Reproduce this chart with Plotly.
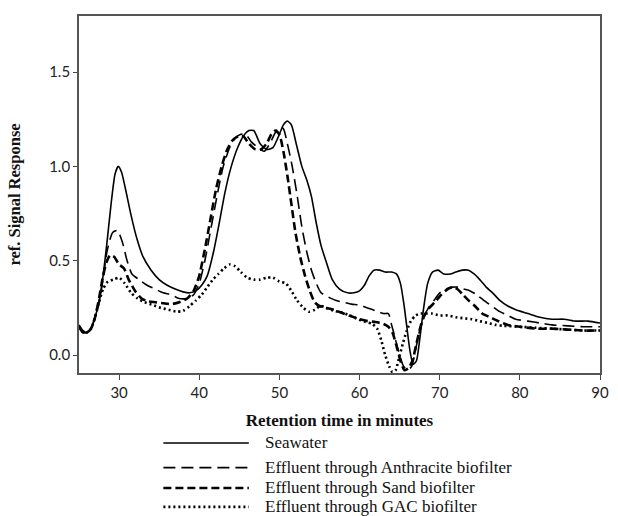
import plotly.graph_objects as go

series_names = [
    "Seawater",
    "Effluent through Anthracite biofilter",
    "Effluent through Sand biofilter",
    "Effluent through GAC biofilter",
]

sea_x = [25, 25.5, 26, 26.5, 27, 27.5, 28, 28.5, 29, 29.5, 29.9, 30.3, 30.8, 31.5, 32.2, 33, 34, 35, 36, 37, 38, 38.8, 39.6, 40.3, 41, 41.8, 42.5, 43.2, 44, 44.8, 45.5, 46.2, 46.8, 47.6, 48.4, 49.2, 50, 50.5, 51, 51.5, 52.1, 52.8, 53.4, 54, 54.6, 55.2, 55.8, 56.6, 57.5, 58.5, 59.3, 60, 60.6, 61.2, 61.8, 62.5, 63.2, 64, 64.6, 65.1, 65.5, 65.9, 66.3, 66.7, 67.1, 67.5, 68, 68.5, 69.1, 69.8, 70.5, 71.3, 72, 72.8, 73.6, 74.3, 75, 75.8, 76.6, 77.5, 78.5, 79.5, 81, 82.5, 84, 85.5, 87, 88.5, 90]
sea_y = [0.15, 0.12, 0.12, 0.14, 0.2, 0.28, 0.42, 0.6, 0.8, 0.96, 1.0, 0.97, 0.88, 0.74, 0.62, 0.52, 0.45, 0.4, 0.37, 0.35, 0.335, 0.33, 0.34, 0.37, 0.42, 0.55, 0.7, 0.86, 1.0, 1.1, 1.16, 1.19, 1.19, 1.12, 1.09, 1.1, 1.17, 1.22, 1.24, 1.22, 1.12, 1.0, 0.93, 0.84, 0.7, 0.58, 0.5, 0.4, 0.35, 0.33, 0.33, 0.34, 0.37, 0.42, 0.45, 0.45, 0.44, 0.44, 0.43, 0.38, 0.28, 0.15, 0.02, -0.05, -0.03, 0.08, 0.25, 0.38, 0.44, 0.45, 0.43, 0.43, 0.44, 0.45, 0.45, 0.43, 0.4, 0.36, 0.33, 0.29, 0.26, 0.24, 0.22, 0.2, 0.19, 0.19, 0.18, 0.18, 0.17]

anth_x = [25, 25.5, 26, 26.5, 27, 27.5, 28, 28.5, 29.2, 29.8, 30.4, 31, 31.6, 32.5, 33.5, 34.5, 35.5, 36.5, 37.5, 38.5, 39.3, 40, 40.7, 41.5, 42.3, 43, 43.8, 44.5, 45.2, 45.8, 46.5, 47.3, 48.1, 48.8, 49.5, 50, 50.5, 51, 51.6, 52.2, 52.8, 53.4, 54, 54.6, 55.2, 56, 57, 58, 59, 60, 61, 62, 63, 63.6, 64, 64.5, 65, 65.5, 66, 66.5, 67, 67.5, 68, 68.6, 69.3, 70, 70.8, 71.6, 72.3, 73, 73.8, 74.6, 75.5, 76.5, 77.5, 78.5, 79.5, 81, 82.5, 84, 86, 88, 90]
anth_y = [0.16, 0.13, 0.12, 0.14, 0.2, 0.28, 0.4, 0.55, 0.65, 0.66, 0.6, 0.5, 0.43, 0.4, 0.37, 0.35, 0.33, 0.32, 0.3, 0.3, 0.32, 0.38, 0.5, 0.68, 0.86, 1.0, 1.1, 1.15, 1.17, 1.17, 1.13, 1.1, 1.08, 1.12, 1.18, 1.21, 1.2, 1.12, 1.0, 0.85, 0.68, 0.55, 0.45, 0.38, 0.33, 0.31, 0.29, 0.28, 0.27, 0.265, 0.25, 0.235, 0.22, 0.22, 0.16, 0.08, 0.0, -0.06, -0.08, -0.06, 0.03, 0.13, 0.2, 0.25, 0.29, 0.33, 0.35, 0.36, 0.36, 0.35, 0.34, 0.32, 0.29, 0.26, 0.23, 0.21, 0.19, 0.18, 0.17, 0.16, 0.155, 0.15, 0.15]

sand_x = [25, 25.5, 26, 26.5, 27, 27.5, 28, 28.5, 28.9, 29.4, 30, 30.6, 31.2, 32, 32.8, 33.6, 34.5, 35.5, 36.5, 37.5, 38.5, 39.3, 40, 40.7, 41.4, 42.1, 42.8, 43.5, 44.2, 44.9, 45.5, 46.2, 47, 47.7, 48.4, 49, 49.5, 50, 50.5, 51, 51.5, 52, 52.6, 53.2, 53.8, 54.4, 55, 55.8, 56.8, 58, 59, 60, 61, 62, 63, 63.6, 64.1, 64.6, 65.1, 65.6, 66.1, 66.6, 67.1, 67.6, 68.1, 68.7, 69.4, 70.2, 71, 71.6, 72.2, 72.9, 73.6, 74.4, 75.3, 76.3, 77.3, 78.5, 80, 82, 84, 86, 88, 90]
sand_y = [0.15, 0.12, 0.12, 0.14, 0.2, 0.3, 0.42, 0.5, 0.53, 0.52, 0.48, 0.46, 0.4, 0.34, 0.3, 0.285, 0.28, 0.275, 0.27, 0.28, 0.3, 0.34, 0.42, 0.56, 0.72, 0.88, 1.0, 1.09, 1.14, 1.16, 1.16, 1.12, 1.09, 1.09, 1.12, 1.17, 1.19, 1.17, 1.08, 0.95, 0.8, 0.65, 0.52, 0.42, 0.34, 0.28, 0.26, 0.25, 0.24, 0.22, 0.205, 0.19, 0.18, 0.175, 0.165, 0.15, 0.12, 0.05, -0.03, -0.08, -0.07, -0.03, 0.06, 0.15, 0.21, 0.25, 0.28, 0.32, 0.35, 0.36, 0.35, 0.32, 0.29, 0.26, 0.22, 0.2, 0.18, 0.16, 0.15, 0.14, 0.14, 0.135, 0.13, 0.13]

gac_x = [25, 25.5, 26, 26.5, 27, 27.5, 28, 28.6, 29.3, 30, 30.7, 31.5, 32.3, 33.2, 34.2, 35.2, 36.2, 37.2, 38, 38.8, 39.6, 40.3, 41, 41.7, 42.4, 43.1, 43.8, 44.5, 45.2, 46, 46.8, 47.6, 48.4, 49.2, 50, 50.8, 51.5, 52.2, 53, 53.7, 54.4, 55.1, 55.9, 56.8, 57.8, 58.8, 59.8, 60.8, 61.6, 62.2, 62.7, 63.2, 63.7, 64.1, 64.5, 64.9, 65.4, 65.9, 66.4, 67, 67.6, 68.2, 69, 70, 71, 72, 73, 74, 75, 76, 77, 78, 80, 82, 84, 86, 88, 90]
gac_y = [0.15, 0.12, 0.12, 0.14, 0.2, 0.28, 0.35, 0.39, 0.4, 0.41, 0.38, 0.33, 0.3, 0.28, 0.265, 0.25, 0.24, 0.23, 0.235, 0.26, 0.29, 0.32, 0.36, 0.4, 0.43, 0.46, 0.48, 0.47, 0.44, 0.41, 0.4, 0.4, 0.41, 0.41, 0.39, 0.38, 0.34, 0.29, 0.25, 0.23, 0.24, 0.26, 0.25, 0.235, 0.225, 0.21, 0.19, 0.175, 0.165, 0.14, 0.08, 0.0, -0.06, -0.09, -0.08, -0.02, 0.06, 0.13, 0.18, 0.21, 0.22, 0.22, 0.22, 0.21, 0.21, 0.2, 0.195, 0.19, 0.18, 0.17, 0.16, 0.155, 0.15, 0.145, 0.14, 0.135, 0.13, 0.13]

x_ticks = [30, 40, 50, 60, 70, 80, 90]
y_ticks = [0.0, 0.5, 1.0, 1.5]

styles = [
    dict(width=1.6, dash="solid"),
    dict(width=1.6, dash="12px,6px"),
    dict(width=2.6, dash="8px,4px"),
    dict(width=2.6, dash="2px,3px"),
]
data = [(sea_x, sea_y), (anth_x, anth_y), (sand_x, sand_y), (gac_x, gac_y)]

fig = go.Figure()
for name, (xs, ys), st in zip(series_names, data, styles):
    fig.add_trace(go.Scatter(
        x=xs, y=ys, mode="lines", name=name, showlegend=False,
        line=dict(color="black", width=st["width"], dash=st["dash"], shape="spline", smoothing=0.6),
    ))

# legend drawn below the axis title
row_y = [-0.196, -0.265, -0.322, -0.375]
for name, st, yy in zip(series_names, styles, row_y):
    fig.add_shape(type="line", xref="paper", yref="paper", x0=0.162, x1=0.326, y0=yy, y1=yy,
                  line=dict(color="black", width=st["width"], dash=st["dash"]))
    fig.add_annotation(text=name, xref="paper", yref="paper", x=0.353, y=yy, xanchor="left",
                       yanchor="middle", showarrow=False,
                       font=dict(family="Liberation Serif", size=17, color="#111"))

fig.update_layout(
    width=618, height=516,
    margin=dict(l=79, r=9, t=16, b=143),
    paper_bgcolor="white", plot_bgcolor="white",
    xaxis=dict(
        range=[25, 90], tickvals=x_ticks, ticks="outside", ticklen=5, tickwidth=1.2, tickcolor="#444",
        showgrid=False, zeroline=False, showline=True, linecolor="#555", linewidth=1.8, mirror=True,
        tickfont=dict(family="Lato", size=15, color="#222"),
        title=dict(text="Retention time in minutes", standoff=14,
                   font=dict(family="Liberation Serif", size=17, color="#111", weight="bold")),
    ),
    yaxis=dict(
        range=[-0.095, 1.797], tickvals=y_ticks, tickformat=".1f", ticks="outside", ticklen=4,
        tickwidth=1.2, tickcolor="#444",
        showgrid=False, zeroline=False, showline=True, linecolor="#555", linewidth=1.8, mirror=True,
        tickfont=dict(family="Lato", size=15, color="#222"),
        title=dict(text="ref. Signal Response", standoff=24,
                   font=dict(family="Liberation Serif", size=16.5, color="#111", weight="bold")),
    ),
)

fig.write_html("out.html")
